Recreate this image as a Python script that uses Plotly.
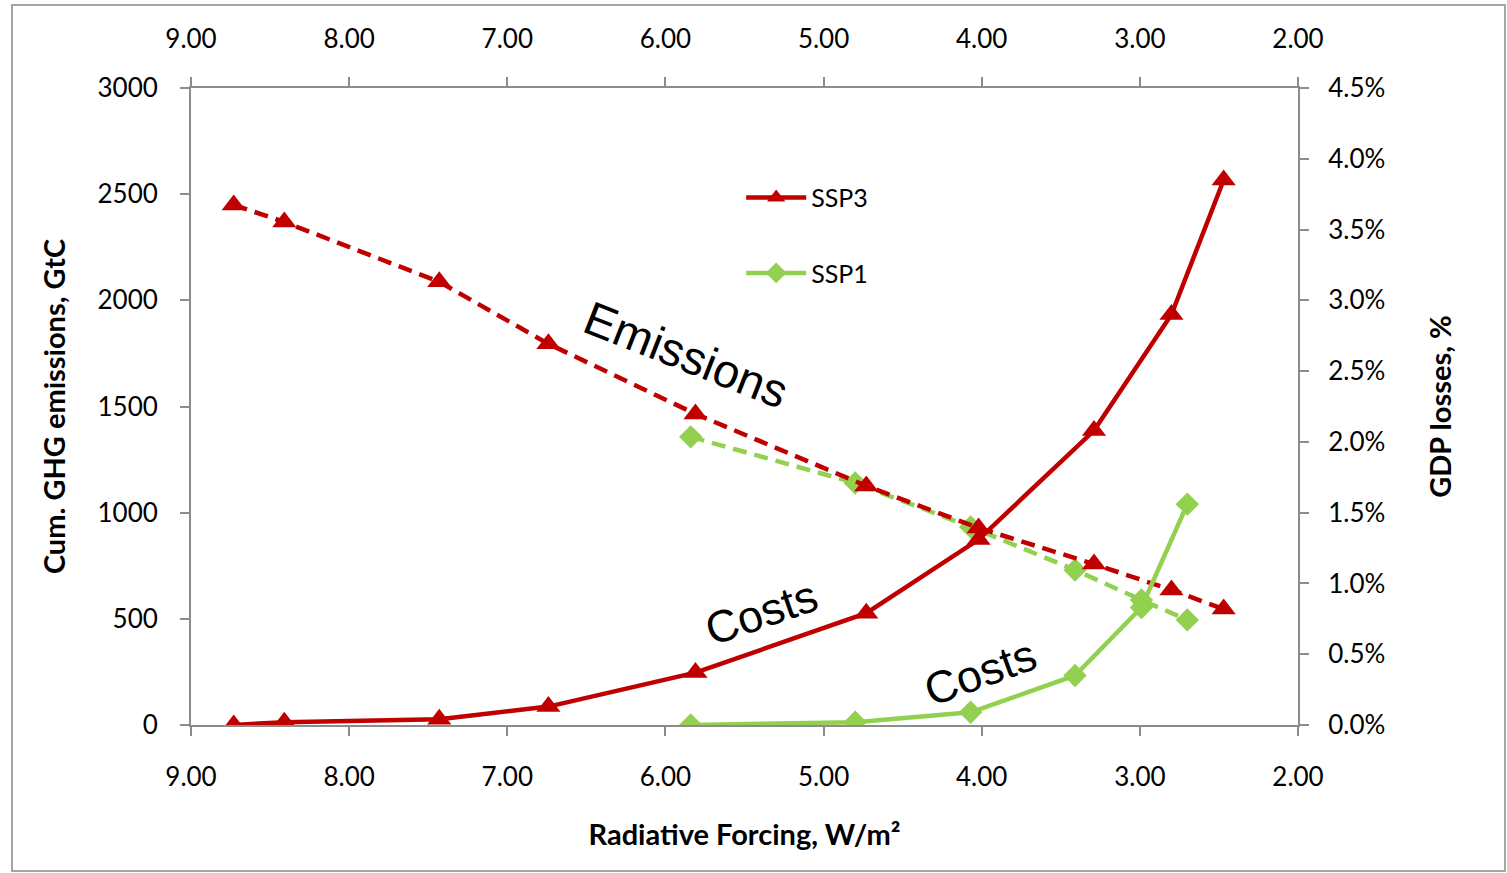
import plotly.graph_objects as go

# ---- data ----
ssp3_rf = [8.73, 8.41, 7.43, 6.74, 5.81, 4.73, 4.02, 3.29, 2.80, 2.47]
ssp3_emissions = [2449, 2369, 2087, 1795, 1465, 1126, 928, 758, 636, 546]
ssp3_costs = [0.0000, 0.0002, 0.0004, 0.0013, 0.0037, 0.0079, 0.0131, 0.0208, 0.0290, 0.0385]

ssp1_rf = [5.84, 4.80, 4.07, 3.41, 2.99, 2.70]
ssp1_emissions = [1357, 1140, 933, 730, 589, 495]
ssp1_costs = [0.0000, 0.0002, 0.0009, 0.0035, 0.0083, 0.0156]

x_ticks = [9, 8, 7, 6, 5, 4, 3, 2]
x_tick_labels = ["9.00", "8.00", "7.00", "6.00", "5.00", "4.00", "3.00", "2.00"]
y_ticks = [0, 500, 1000, 1500, 2000, 2500, 3000]
y2_ticks = [0, 0.005, 0.01, 0.015, 0.02, 0.025, 0.03, 0.035, 0.04, 0.045]

RED = "#c00000"
GREEN = "#92d050"
AXIS = "#8c8c8c"
TICK_FONT = dict(family="Lato, 'Open Sans', sans-serif", size=26, color="#000000")
TITLE_FONT = dict(family="Lato, 'Open Sans', sans-serif", size=29, color="#000000", weight="bold")

fig = go.Figure()

# emissions (dashed, left axis)
fig.add_trace(go.Scatter(
    x=ssp1_rf, y=ssp1_emissions, mode="lines+markers", name="SSP1 emissions",
    line=dict(color=GREEN, width=4.5, dash="14px,8px"),
    marker=dict(symbol="diamond", size=18, color=GREEN),
    showlegend=False, yaxis="y"))
fig.add_trace(go.Scatter(
    x=ssp3_rf, y=ssp3_emissions, mode="lines+markers", name="SSP3 emissions",
    line=dict(color=RED, width=4.5, dash="14px,8px"),
    marker=dict(symbol="triangle-up", size=21, color=RED),
    showlegend=False, yaxis="y"))

# costs (solid, right axis)
fig.add_trace(go.Scatter(
    x=ssp3_rf, y=ssp3_costs, mode="lines+markers", name="SSP3",
    line=dict(color=RED, width=4.5),
    marker=dict(symbol="triangle-up", size=21, color=RED),
    legendgroup="a", yaxis="y2"))
fig.add_trace(go.Scatter(
    x=ssp1_rf, y=ssp1_costs, mode="lines+markers", name="SSP1",
    line=dict(color=GREEN, width=4.5),
    marker=dict(symbol="diamond", size=18, color=GREEN),
    legendgroup="b", yaxis="y2"))

# empty trace to bring up the top x axis
fig.add_trace(go.Scatter(x=[], y=[], xaxis="x2", yaxis="y", showlegend=False, hoverinfo="skip"))

axis_common = dict(showline=True, linecolor=AXIS, linewidth=2, ticks="outside",
                   ticklen=9, tickwidth=2, tickcolor=AXIS, showgrid=False,
                   zeroline=False, tickfont=TICK_FONT)

fig.update_layout(
    width=1507, height=873,
    margin=dict(l=191, r=209, t=88, b=148),
    paper_bgcolor="white", plot_bgcolor="white",
    xaxis=dict(range=[9, 2], tickvals=x_ticks, ticktext=x_tick_labels,
               ticklabelstandoff=19,
               title=dict(text="Radiative Forcing, W/m²", font=TITLE_FONT, standoff=33),
               **axis_common),
    xaxis2=dict(range=[9, 2], tickvals=x_ticks, ticktext=x_tick_labels,
                overlaying="x", side="top", anchor="y", ticklabelstandoff=19,
                **axis_common),
    yaxis=dict(range=[0, 3000], tickvals=y_ticks, ticklabelstandoff=17,
               title=dict(text="Cum. GHG emissions, GtC", font=TITLE_FONT, standoff=23),
               **axis_common),
    yaxis2=dict(range=[0, 0.045], tickvals=y2_ticks, tickformat=".1%",
                overlaying="y", side="right", anchor="x", ticklabelstandoff=14,
                title=dict(text="GDP losses, %", font=TITLE_FONT, standoff=46),
                **axis_common),
    legend=dict(x=0.497, y=0.864, xanchor="left", yanchor="top",
                bgcolor="rgba(0,0,0,0)", font=dict(family="Lato, sans-serif", size=25, color="#000"),
                itemwidth=60, tracegroupgap=40, traceorder="grouped"),
    showlegend=True,
    annotations=[
        dict(text="Emissions", x=5.87, y=1743, xref="x", yref="y", showarrow=False,
             textangle=21.5, font=dict(family="'Liberation Sans', Arial, sans-serif", size=47, color="#000")),
        dict(text="Costs", x=5.39, y=528, xref="x", yref="y", showarrow=False,
             textangle=-19, font=dict(family="'Liberation Sans', Arial, sans-serif", size=45, color="#000")),
        dict(text="Costs", x=4.01, y=245, xref="x", yref="y", showarrow=False,
             textangle=-20, font=dict(family="'Liberation Sans', Arial, sans-serif", size=45, color="#000")),
    ],
    shapes=[dict(type="rect", xref="paper", yref="paper",
                 x0=(12 - 191) / 1107, x1=(1505 - 191) / 1107,
                 y0=(725 - 871) / 637, y1=(725 - 5) / 637,
                 line=dict(color="#a6a6a6", width=2), fillcolor="rgba(0,0,0,0)", layer="below")],
)

fig.write_html("out.html")
